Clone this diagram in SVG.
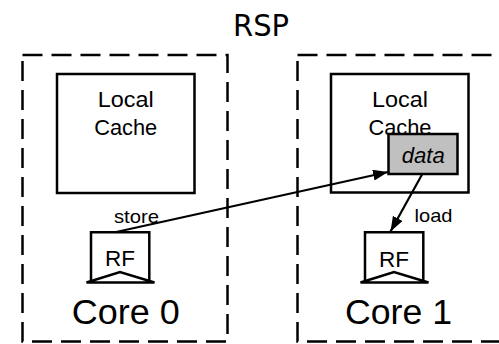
<svg xmlns="http://www.w3.org/2000/svg" width="499" height="344" viewBox="0 0 499 344">
  <style>
    .core { fill: none; stroke: #000; stroke-width: 2.5; stroke-dasharray: 20 9; }
    .box { fill: #fff; stroke: #000; stroke-width: 2.5; }
    .data { fill: #c0c0c0; stroke: #000; stroke-width: 2.5; }
    .rf { fill: #fff; stroke: #000; stroke-width: 2.5; stroke-linejoin: miter; }
    .t { font-family: "Liberation Sans", Arial, Helvetica, sans-serif; fill: #000; text-anchor: middle; }
    .title { font-family: "DejaVu Sans", Verdana, sans-serif; fill: #000; text-anchor: middle; font-size: 31px; }
    .edge { fill: none; stroke: #000; stroke-width: 2.2; }
  </style>
  <defs>
    <marker id="arrow" markerUnits="userSpaceOnUse" markerWidth="16" markerHeight="12" refX="15" refY="5.5" orient="auto">
      <path d="M0,0 L15,5.5 L0,11 Z" fill="#000"/>
    </marker>
  </defs>
  <rect width="499" height="344" fill="#fff"/>

  <g id="title">
    <text class="title" x="261" y="36" textLength="56" lengthAdjust="spacingAndGlyphs">RSP</text>
  </g>

  <g id="core0">
    <rect class="core" x="22.5" y="55" width="205" height="286.5"/>
    <text class="t" x="125.8" y="323.5" font-size="35" textLength="108" lengthAdjust="spacingAndGlyphs">Core 0</text>
  </g>

  <g id="core1">
    <rect class="core" x="297.5" y="55" width="205" height="286.5"/>
    <text class="t" x="398.5" y="323.5" font-size="35" textLength="107" lengthAdjust="spacingAndGlyphs">Core 1</text>
  </g>

  <g id="cache0">
    <rect class="box" x="57" y="74" width="137.5" height="119"/>
    <text class="t" x="125.7" y="106.5" font-size="22.5" textLength="56" lengthAdjust="spacingAndGlyphs">Local</text>
    <text class="t" x="125.7" y="135" font-size="22.5" textLength="63" lengthAdjust="spacingAndGlyphs">Cache</text>
  </g>

  <g id="cache1">
    <rect class="box" x="331" y="74" width="137.5" height="118.5"/>
    <text class="t" x="400" y="106.5" font-size="22.5" textLength="56" lengthAdjust="spacingAndGlyphs">Local</text>
    <text class="t" x="400" y="135" font-size="22.5" textLength="63" lengthAdjust="spacingAndGlyphs">Cache</text>
  </g>

  <g id="data">
    <rect class="data" x="388.5" y="134" width="69" height="40"/>
    <text class="t" x="423.3" y="163" font-size="21.5" font-style="italic" textLength="43" lengthAdjust="spacingAndGlyphs">data</text>
  </g>

  <g id="rf0">
    <path class="rf" d="M91,282 V232.3 H149.3 V282"/>
    <path class="rf" d="M86.5,282.5 L120,272 L154.5,282.5 Z"/>
    <text class="t" x="120" y="266" font-size="22.5" textLength="30" lengthAdjust="spacingAndGlyphs">RF</text>
  </g>

  <g id="rf1">
    <path class="rf" d="M365,282 V232.3 H423.3 V282"/>
    <path class="rf" d="M360.5,282.5 L394,272 L428.5,282.5 Z"/>
    <text class="t" x="394" y="267" font-size="22.5" textLength="30" lengthAdjust="spacingAndGlyphs">RF</text>
  </g>

  <g id="connectors">
    <line class="edge" x1="115" y1="232.3" x2="388" y2="172" marker-end="url(#arrow)"/>
    <text class="t" x="136.5" y="222.5" font-size="19" textLength="45" lengthAdjust="spacingAndGlyphs">store</text>
    <line class="edge" x1="422.3" y1="174" x2="390.5" y2="231.5" marker-end="url(#arrow)"/>
    <text class="t" x="433.5" y="221.5" font-size="19" textLength="38" lengthAdjust="spacingAndGlyphs">load</text>
  </g>
</svg>
